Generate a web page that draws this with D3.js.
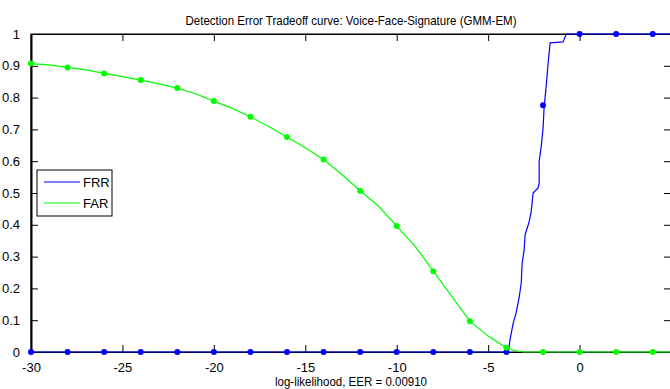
<!DOCTYPE html>
<html>
<head>
<meta charset="utf-8">
<script src="https://cdn.jsdelivr.net/npm/d3@7"></script>
<style>
  body { margin: 0; background: #fff; }
  text { font-family: "Liberation Sans", Arial, sans-serif; }
</style>
</head>
<body>
<div id="chart"></div>
<script>
// FRR curve (blue)
const frrX = [-30, -3.9, -3.8, -3.63, -3.47, -3.30, -3.19, -3.14, -3.03, -2.98, -2.76, -2.65, -2.54, -2.27, -2.21, -2.21, -2.10, -1.99, -1.94, -1.83, -1.72, -1.61, -0.90, -0.73, 5];
const frrY = [0, 0, 0.04, 0.091, 0.123, 0.173, 0.217, 0.280, 0.321, 0.368, 0.409, 0.440, 0.500, 0.516, 0.531, 0.600, 0.645, 0.708, 0.770, 0.833, 0.909, 0.972, 0.975, 1.0, 1.0];
const frrMarkX = [-30, -28, -26, -24, -22, -20, -18, -16, -14, -12, -10, -8, -6, -4, -2, 0, 2, 4];
const frrMarkY = [0, 0, 0, 0, 0, 0, 0, 0, 0, 0, 0, 0, 0, 0, 0.776, 1, 1, 1];

// FAR curve (green)
const farX = [-30, -29, -28, -27, -26, -25, -24, -23, -22, -21, -20, -19, -18, -17, -16, -15, -14, -13, -12, -11, -10, -9, -8, -7, -6, -5, -4, -3.5, -3.07, 5];
const farY = [0.907, 0.903, 0.895, 0.887, 0.876, 0.866, 0.855, 0.843, 0.830, 0.812, 0.789, 0.766, 0.740, 0.709, 0.676, 0.642, 0.605, 0.558, 0.507, 0.459, 0.396, 0.333, 0.254, 0.176, 0.097, 0.050, 0.013, 0.004, 0, 0];
const farMarkX = [-30, -28, -26, -24, -22, -20, -18, -16, -14, -12, -10, -8, -6, -4, -2, 0, 2, 4];
const farMarkY = [0.907, 0.895, 0.876, 0.855, 0.830, 0.789, 0.740, 0.676, 0.605, 0.507, 0.396, 0.254, 0.097, 0.013, 0, 0, 0, 0];

const xTicks = [-30, -25, -20, -15, -10, -5, 0];
const yTicks = [0, 0.1, 0.2, 0.3, 0.4, 0.5, 0.6, 0.7, 0.8, 0.9, 1];
const legendNames = ['FRR', 'FAR'];
const legendColors = ['#0000ff', '#00ff00'];

const width = 670, height = 389;
const margin = { top: 34, right: -1, bottom: 37, left: 31 };
const innerW = width - margin.left - margin.right;
const innerH = height - margin.top - margin.bottom;

const svg = d3.select('#chart').append('svg')
    .attr('width', width)
    .attr('height', height);

const g = svg.append('g')
    .attr('transform', `translate(${margin.left},${margin.top})`);

const xScale = d3.scaleLinear().domain([-30, 5]).range([0, innerW]);
const yScale = d3.scaleLinear().domain([0, 1]).range([innerH, 0]);

const TICK = 7;
// plain hyphen for negatives, like the original
const fmt = d => String(d);

// box
g.append('rect')
    .attr('width', innerW).attr('height', innerH)
    .attr('fill', 'none').attr('stroke', '#000').attr('stroke-width', 1);

// ticks inward on all four sides
const xAxisB = d3.axisBottom(xScale).tickValues(xTicks).tickSizeInner(-TICK).tickSizeOuter(0).tickPadding(TICK + 4).tickFormat(fmt);
const xAxisT = d3.axisTop(xScale).tickValues(xTicks).tickSizeInner(-TICK).tickSizeOuter(0).tickFormat('');
const yAxisL = d3.axisLeft(yScale).tickValues(yTicks).tickSizeInner(-TICK).tickSizeOuter(0).tickPadding(TICK + 4).tickFormat(fmt);
const yAxisR = d3.axisRight(yScale).tickValues(yTicks).tickSizeInner(-TICK).tickSizeOuter(0).tickFormat('');

const axB = g.append('g').attr('transform', `translate(0,${innerH})`).call(xAxisB);
const axT = g.append('g').call(xAxisT);
const axL = g.append('g').call(yAxisL);
const axR = g.append('g').attr('transform', `translate(${innerW},0)`).call(yAxisR);

[axB, axT, axL, axR].forEach(a => {
    a.select('.domain').attr('stroke', '#000');
    a.selectAll('.tick line').attr('stroke', '#000');
    a.selectAll('.tick text')
        .attr('fill', '#000')
        .style('font-size', '13px')
        .style('font-family', '"Liberation Sans", Arial, sans-serif');
});
axL.select('.domain').attr('stroke-width', 2);

// curves
const line = d3.line().x(d => xScale(d[0])).y(d => yScale(d[1]));

const frr = d3.zip(frrX, frrY);
const far = d3.zip(farX, farY);
const frrMarks = d3.zip(frrMarkX, frrMarkY);
const farMarks = d3.zip(farMarkX, farMarkY);

g.append('path').datum(frr)
    .attr('d', line).attr('fill', 'none')
    .attr('stroke', legendColors[0]).attr('stroke-width', 1.2);

g.selectAll('.frr-dot').data(frrMarks).enter().append('circle')
    .attr('class', 'frr-dot')
    .attr('cx', d => xScale(d[0])).attr('cy', d => yScale(d[1]))
    .attr('r', 3).attr('fill', legendColors[0]);

g.append('path').datum(far)
    .attr('d', line).attr('fill', 'none')
    .attr('stroke', legendColors[1]).attr('stroke-width', 1.2);

g.selectAll('.far-dot').data(farMarks).enter().append('circle')
    .attr('class', 'far-dot')
    .attr('cx', d => xScale(d[0])).attr('cy', d => yScale(d[1]))
    .attr('r', 3).attr('fill', legendColors[1]);

// title and x label
svg.append('text')
    .attr('x', margin.left + innerW / 2).attr('y', 25)
    .attr('text-anchor', 'middle')
    .style('font-size', '13px')
    .attr('textLength', 331).attr('lengthAdjust', 'spacingAndGlyphs')
    .text('Detection Error Tradeoff curve: Voice-Face-Signature (GMM-EM)');

svg.append('text')
    .attr('x', margin.left + innerW / 2).attr('y', 386)
    .attr('text-anchor', 'middle')
    .style('font-size', '13px')
    .attr('textLength', 152).attr('lengthAdjust', 'spacingAndGlyphs')
    .text('log-likelihood, EER = 0.00910');

// legend
const legend = svg.append('g').attr('transform', 'translate(37,170)');
legend.append('rect')
    .attr('width', 75).attr('height', 46)
    .attr('fill', '#fff').attr('stroke', '#000');
legendNames.forEach((name, i) => {
    const y = 12 + i * 21;
    legend.append('line')
        .attr('x1', 7).attr('x2', 43).attr('y1', y).attr('y2', y)
        .attr('stroke', legendColors[i]).attr('stroke-width', 1.2);
    legend.append('text')
        .attr('x', 46).attr('y', y + 4.5)
        .style('font-size', '13px')
        .text(name);
});
</script>
</body>
</html>
